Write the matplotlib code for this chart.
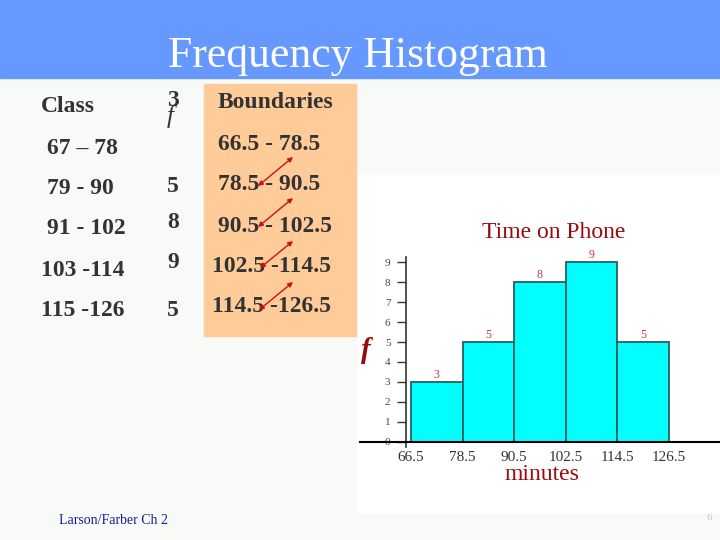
import numpy as np
import matplotlib
matplotlib.use("Agg")
import matplotlib.pyplot as plt
from matplotlib.patches import Rectangle

# datos de la diapositiva
clases = ["67 – 78", "79 - 90", "91 - 102", "103 -114", "115 -126"]
frecuencias = [3, 5, 8, 9, 5]
limites = ["66.5 - 78.5", "78.5 - 90.5", "90.5 - 102.5", "102.5 -114.5", "114.5 -126.5"]
bordes = [66.5, 78.5, 90.5, 102.5, 114.5, 126.5]

SERIF = "Liberation Serif"
GRIS = "#333333"
ROJO = "#9B0A0A"
TAM = 17

fig = plt.figure(figsize=(7.2, 5.4), dpi=100, facecolor="#F8FAF8")

# capa de fondo en pixeles (y hacia abajo)
bg = fig.add_axes([0, 0, 1, 1])
bg.set_xlim(0, 720)
bg.set_ylim(540, 0)
bg.axis("off")

# banda azul del titulo
bg.add_patch(Rectangle((0, 0), 720, 78, color="#6699FF", zorder=1))
bg.text(358, 67, "Frequency Histogram", color="white", fontsize=31.5,
        family=SERIF, ha="center", va="baseline", zorder=2)

# zona blanca del grafico
bg.add_patch(Rectangle((357, 175), 363, 338, color="white", zorder=0))

# caja de limites
bg.add_patch(Rectangle((204, 84), 152, 252, color="#FFCC99", zorder=1))

# tabla
bg.text(40.7, 107, "Class", fontsize=TAM, fontweight="bold", family=SERIF,
        color=GRIS, va="center", zorder=3)
bg.text(218, 103, "Boundaries", fontsize=TAM, fontweight="bold", family=SERIF,
        color=GRIS, va="center", zorder=3)
bg.text(170, 117, "f", fontsize=18, style="italic", family=SERIF,
        color=GRIS, ha="center", va="center", zorder=3)

x_clases = [46.7, 46.7, 46.7, 40.7, 40.7]
y_clases = [148, 188, 229, 270, 310]
for x, y, c in zip(x_clases, y_clases, clases):
    bg.text(x, y, c, fontsize=TAM, fontweight="bold", family=SERIF,
            color=GRIS, va="center", zorder=3)

y_frec = [101, 187, 222, 263, 310]
for y, f in zip(y_frec, frecuencias):
    bg.text(173, y, str(f), fontsize=TAM, fontweight="bold", family=SERIF,
            color=GRIS, ha="center", va="center", zorder=3)

x_lim = [218, 218, 218, 212, 212]
y_lim = [144, 185, 226, 267, 307]
for x, y, t in zip(x_lim, y_lim, limites):
    bg.text(x, y, t, fontsize=TAM, fontweight="bold", family=SERIF,
            color=GRIS, va="center", zorder=3)

# flechas rojas entre limites
flechas = [((293, 157), (258, 186)), ((293, 198), (258, 227)),
           ((293, 241), (260, 268)), ((293, 282), (259, 310))]
for a, b in flechas:
    bg.annotate("", xy=a, xytext=b,
                arrowprops=dict(arrowstyle="<|-|>", color="#CC1111", lw=1,
                                mutation_scale=7, shrinkA=0, shrinkB=0),
                zorder=4)

# pie de pagina
bg.text(58.8, 521, "Larson/Farber Ch 2", fontsize=10, family=SERIF,
        color="#1A1A99", va="center")
bg.text(709, 517, "6", fontsize=8, family=SERIF, color="#C8CCD0",
        ha="center", va="center")

# histograma
ax = fig.add_axes([0.5, 0.1728, 0.5, 0.3507])
ax.patch.set_alpha(0)
ax.set_xlim(54.6, 138.5)
ax.set_ylim(-0.25, 9.25)

barras = ax.bar(bordes[:-1], frecuencias, width=np.diff(bordes), align="edge",
                color="#00FFFF", edgecolor="#2B5E5E", linewidth=1.3, zorder=2)
ax.bar_label(barras, padding=1, fontsize=8.5, family=SERIF, color="#C8324A")

for s in ["top", "right"]:
    ax.spines[s].set_visible(False)
ax.spines["left"].set_position(("data", 65.26))
ax.spines["left"].set_color("#333333")
ax.spines["left"].set_linewidth(1.2)
ax.spines["bottom"].set_position(("data", 0))
ax.spines["bottom"].set_color("black")
ax.spines["bottom"].set_linewidth(1.5)
ax.spines["bottom"].set_zorder(3)

ax.set_xticks(bordes)
ax.set_xticklabels([str(b) for b in bordes], family=SERIF)
ax.tick_params(axis="x", length=0, pad=6.5, labelsize=11, labelcolor=GRIS)
ax.set_yticks(range(10))
ax.set_yticklabels([str(i) for i in range(10)], family=SERIF)
ax.tick_params(axis="y", length=6.5, width=1, color="#333333", pad=4.5,
               labelsize=8, labelcolor="#444444")

bg.text(554, 233, "Time on Phone", fontsize=17, family=SERIF, color=ROJO,
        ha="center", va="center")
bg.text(542, 474, "minutes", fontsize=17, family=SERIF, color=ROJO,
        ha="center", va="center")
bg.text(366, 350, "f", fontsize=21, family=SERIF, style="italic",
        fontweight="bold", color=ROJO, ha="center", va="center")

fig.savefig("out.png", dpi=100, facecolor=fig.get_facecolor())
